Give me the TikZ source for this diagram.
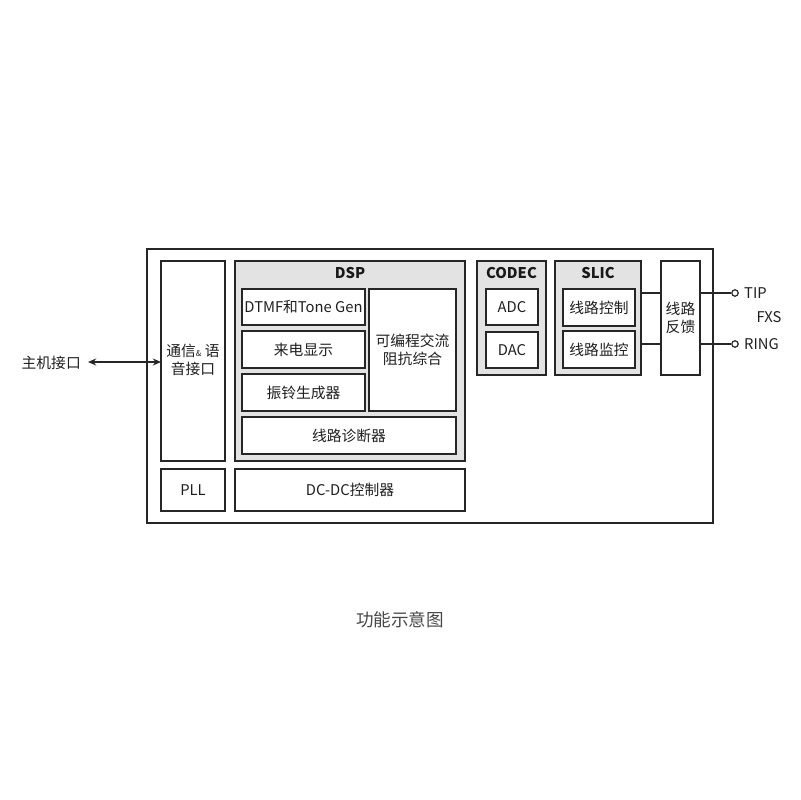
\documentclass[tikz,border=0pt]{standalone}
\usepackage{fontspec}
\setmainfont{Noto Sans CJK SC}
\usetikzlibrary{arrows.meta}
\begin{document}
\begin{tikzpicture}[x=0.3mm,y=-0.3mm,
  box/.style={draw=black!85,line width=1.3pt,fill=white},
  grp/.style={draw=black!85,line width=1.3pt,fill=black!11},
  lbl/.style={font=\fontsize{12.6}{15}\selectfont,text=black!88,align=center,inner sep=0pt},
  ttl/.style={font=\fontsize{12.6}{15}\selectfont\bfseries,text=black!90,inner sep=0pt},
  wire/.style={draw=black!85,line width=1.3pt},
  term/.style={circle,draw=black!85,line width=1pt,fill=white,inner sep=0pt,minimum size=5.5pt}]
\useasboundingbox (0,0) rectangle (800,800);
\fill[white] (0,0) rectangle (800,800);
% outer
\draw[box] (147,249) rectangle (713,523);
% left comm
\draw[box] (161,261) rectangle (225,461);
\node[lbl] (comm) at (193,360) {通信{\scriptsize\&} 语\\音接口};
\coordinate (commW) at (161,362);
\draw[box] (161,469) rectangle (225,511);
\node[lbl] (pll) at (193,490) {PLL};
% DSP
\draw[grp] (235,261) rectangle (465,461);
\node[ttl] (dsp) at (350,273) {DSP};
\draw[box] (242,289) rectangle (365,325);
\node[lbl] (dtmf) at (303.5,307) {DTMF和Tone Gen};
\draw[box] (242,331) rectangle (365,368);
\node[lbl] (cid) at (303.5,349.5) {来电显示};
\draw[box] (242,374) rectangle (365,411);
\node[lbl] (ring) at (303.5,392.5) {振铃生成器};
\draw[box] (369,289) rectangle (456,411);
\node[lbl] (imp) at (412.5,350) {可编程交流\\阻抗综合};
\draw[box] (242,417) rectangle (456,454);
\node[lbl] (diag) at (349,435.5) {线路诊断器};
\draw[box] (235,469) rectangle (465,511);
\node[lbl] (dcdc) at (350,490) {DC-DC控制器};
% CODEC
\draw[grp] (477,261) rectangle (546,375);
\node[ttl] (codec) at (511.5,273) {CODEC};
\draw[box] (486,289) rectangle (538,325);
\node[lbl] (adc) at (512,307) {ADC};
\draw[box] (486,332) rectangle (538,368);
\node[lbl] (dac) at (512,350) {DAC};
% SLIC
\draw[grp] (555,261) rectangle (641,375);
\node[ttl] (slic) at (598,273) {SLIC};
\draw[box] (563,289) rectangle (635,326);
\node[lbl] (lc) at (599,307.5) {线路控制};
\draw[box] (563,331) rectangle (635,368);
\node[lbl] (lm) at (599,349.5) {线路监控};
% feedback
\draw[box] (661,261) rectangle (700,375);
\node[lbl] (fb) at (680.5,318) {线路\\反馈};
% wires
\coordinate (s1) at (641,293);
\coordinate (s2) at (641,344);
\coordinate (f1) at (661,293);
\coordinate (f2) at (661,344);
\draw[wire] (s1) -- (f1);
\draw[wire] (s2) -- (f2);
\node[term] (tip) at (735,293) {};
\node[term] (rng) at (735,344) {};
\draw[wire] (700,293) -- (tip);
\draw[wire] (700,344) -- (rng);
\node[lbl,anchor=west] (tipl) at (744,293) {TIP};
\node[lbl,anchor=west] (rngl) at (744,344) {RING};
\node[lbl] (fxs) at (769,317) {FXS};
% host
\node[lbl,anchor=east] (host) at (81,363) {主机接口};
\coordinate (hostE) at (88,362);
\draw[wire,line width=1.3pt,{Stealth[length=7pt,width=6pt]}-{Stealth[length=7pt,width=6pt]}] (hostE) -- (commW);
% caption
\node[lbl,text=black!72,font=\fontsize{15}{18}\selectfont] (cap) at (400,620) {功能示意图};
\end{tikzpicture}
\end{document}
